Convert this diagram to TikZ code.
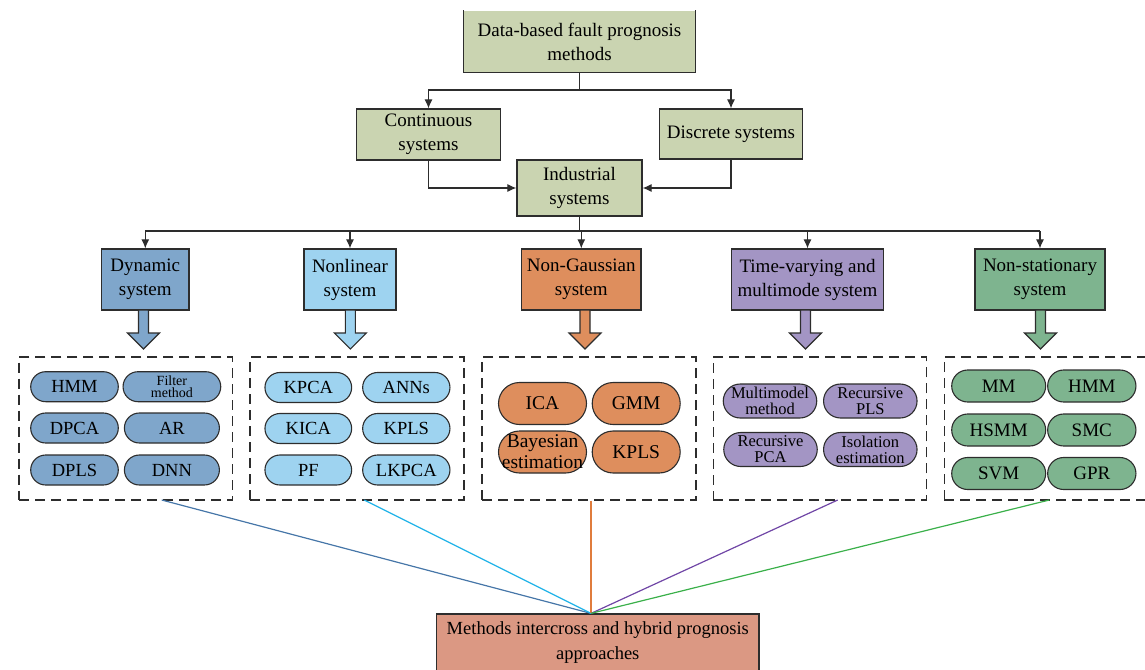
\documentclass[tikz,border=0pt]{standalone}
\usepackage{fontspec}
\setmainfont{Liberation Serif}
\usetikzlibrary{shapes.misc,calc,arrows.meta}

\definecolor{edge}{RGB}{45,45,45}
\definecolor{olive}{RGB}{202,212,177}
\definecolor{dynfill}{RGB}{127,166,203}
\definecolor{nlfill}{RGB}{158,211,240}
\definecolor{ngfill}{RGB}{222,142,93}
\definecolor{tvfill}{RGB}{163,149,196}
\definecolor{nsfill}{RGB}{126,180,143}
\definecolor{hybfill}{RGB}{219,152,131}
\definecolor{dynline}{RGB}{70,118,168}
\definecolor{nlline}{RGB}{30,178,232}
\definecolor{ngline}{RGB}{224,124,60}
\definecolor{tvline}{RGB}{112,70,166}
\definecolor{nsline}{RGB}{58,176,74}

\tikzset{
  box/.style={draw=edge, line width=1.2pt, inner sep=0pt, align=center,
    font=\fontsize{19}{24}\selectfont},
  group/.style={draw=edge, line width=1.3pt, dash pattern=on 10pt off 6pt, inner sep=0pt},
  pill/.style={rounded rectangle, draw=edge, line width=1.1pt, inner sep=0pt, align=center,
    font=\fontsize{18.5}{20}\selectfont},
  conn/.style={draw=edge, line width=1.1pt, -{Latex[length=9pt,width=8pt]}},
  link/.style={line width=1.2pt},
}

% a text line that may run past the edge of its pill without widening it
\newcommand\zw[1]{\makebox[0pt]{#1}}

% block arrow below a category box
\newcommand\blockarr[2]{%
  \filldraw[fill=#2, draw=edge, line width=1.1pt]
    (#1-5,310) -- (#1+5,310) -- (#1+5,333) -- (#1+16,333) -- (#1,349)
    -- (#1-16,333) -- (#1-5,333) -- cycle;}

\begin{document}
\begin{tikzpicture}[x=1pt,y=-1pt]
\useasboundingbox (0,0) rectangle (1145,669);

% ---------- upper hierarchy ----------
\node[box, draw=none, fill=olive, minimum width=231, minimum height=61] (root) at (579.5,41.5)
  {Data-based fault prognosis\\methods};
\draw[edge, line width=1.2pt] (root.north west) -- (root.south west) -- (root.south east) -- (root.north east);

\node[box, fill=olive, minimum width=143.5, minimum height=51] (cont) at (428.5,134.5) {Continuous\\systems};
\node[box, fill=olive, minimum width=142.5, minimum height=50] (disc) at (731,134) {Discrete systems};
\node[box, fill=olive, minimum width=125, minimum height=56] (ind) at (579.5,188) {Industrial\\systems};

\coordinate (split1) at (579.5,90);
\draw[draw=edge, line width=1.1pt] (root.south) -- (split1);
\draw[conn] (split1) -| (cont.north);
\draw[conn] (split1) -| (disc.north);
\draw[conn] (cont.south) |- (ind.west);
\draw[conn] (disc.south) |- (ind.east);

% ---------- system categories ----------
\node[box, fill=dynfill, minimum width=87.3, minimum height=61] (dyn) at (145.3,279.5) {Dynamic\\system};
\node[box, fill=nlfill, minimum width=92, minimum height=61] (nl) at (350,279.5) {Nonlinear\\system};
\node[box, fill=ngfill, minimum width=119.3, minimum height=61] (ng) at (581.3,279.5) {Non-Gaussian\\system};
\node[box, fill=tvfill, minimum width=151.6, minimum height=61] (tv) at (807.5,279.5) {Time-varying and\\multimode system};
\node[box, fill=nsfill, minimum width=130, minimum height=61] (ns) at (1040,279.5) {Non-stationary\\system};

\coordinate (split2) at (579.5,231);
\draw[draw=edge, line width=1.1pt] (ind.south) -- (split2);
\draw[draw=edge, line width=1.1pt] (dyn.north |- split2) -- (ns.north |- split2);
\foreach \n in {dyn,nl,ng,tv,ns} \draw[conn] (\n.north |- split2) -- (\n.north);

\blockarr{143.5}{dynfill}
\blockarr{350.3}{nlfill}
\blockarr{585}{ngfill}
\blockarr{805.5}{tvfill}
\blockarr{1040.5}{nsfill}

% ---------- method groups ----------
\node[group, minimum width=213.7, minimum height=143] (gdyn) at (125.85,428.5) {};
\node[group, minimum width=214, minimum height=143] (gnl) at (357,428.5) {};
\node[group, minimum width=214, minimum height=143] (gng) at (589,428.5) {};
\node[group, minimum width=213.4, minimum height=143] (gtv) at (820,428.5) {};
\node[group, minimum width=214, minimum height=143] (gns) at (1051.3,428.5) {};

% dynamic
\begin{scope}[every node/.append style={pill, fill=dynfill, minimum height=30}]
\node[minimum width=87.6] (d1) at (74.5,386.7) {HMM};
\node[minimum width=97.7, font=\fontsize{14}{12.5}\selectfont] (d2) at (171.9,386.7) {\zw{Filter}\\\zw{method}};
\node[minimum width=87.6] (d3) at (74.5,428) {DPCA};
\node[minimum width=95] (d4) at (171.9,428) {AR};
\node[minimum width=87.6] (d5) at (74.5,470) {DPLS};
\node[minimum width=95] (d6) at (171.9,470) {DNN};
\end{scope}

% nonlinear
\begin{scope}[every node/.append style={pill, fill=nlfill, minimum height=30}]
\node[minimum width=86.7] (n1) at (308.3,387.5) {KPCA};
\node[minimum width=87.3] (n2) at (406.3,387.5) {ANNs};
\node[minimum width=86.7] (n3) at (308.3,428.5) {KICA};
\node[minimum width=87.3] (n4) at (406.3,428.5) {KPLS};
\node[minimum width=86.7] (n5) at (308.3,470) {PF};
\node[minimum width=87.3] (n6) at (406.3,470) {LKPCA};
\end{scope}

% non-Gaussian
\begin{scope}[every node/.append style={pill, fill=ngfill, minimum height=42, minimum width=88,
    font=\fontsize{19.5}{21}\selectfont}]
\node (g1) at (542.5,403.5) {ICA};
\node (g2) at (636.2,403.5) {GMM};
\node (g3) at (542.5,452) {\zw{Bayesian}\\\zw{estimation}};
\node (g4) at (636.2,452) {KPLS};
\end{scope}

% time-varying
\begin{scope}[every node/.append style={pill, fill=tvfill, minimum height=34, minimum width=93.5,
    font=\fontsize{16.5}{16}\selectfont}]
\node (t1) at (770,401) {\zw{Multimodel}\\\zw{method}};
\node (t2) at (870.3,401) {\zw{Recursive}\\\zw{PLS}};
\node (t3) at (770.5,449.5) {\zw{Recursive}\\\zw{PCA}};
\node (t4) at (870.3,449.5) {\zw{Isolation}\\\zw{estimation}};
\end{scope}

% non-stationary
\begin{scope}[every node/.append style={pill, fill=nsfill, minimum height=32,
    font=\fontsize{19}{20}\selectfont}]
\node[minimum width=94] (s1) at (998.7,386) {MM};
\node[minimum width=88.3] (s2) at (1091.8,386) {HMM};
\node[minimum width=94] (s3) at (998.7,430) {HSMM};
\node[minimum width=88.3] (s4) at (1091.8,430) {SMC};
\node[minimum width=94] (s5) at (998.7,473.5) {SVM};
\node[minimum width=88.3] (s6) at (1091.8,473.5) {GPR};
\end{scope}

% ---------- hybrid approaches ----------
\node[box, fill=hybfill, minimum width=322.5, minimum height=58,
  font=\fontsize{18.5}{25}\selectfont] (hyb) at (597.8,643) {Methods intercross and hybrid prognosis\\approaches};

\coordinate (meet) at ($(hyb.north west)!0.479!(hyb.north east)$);
\coordinate (odyn) at (161.7,500);
\coordinate (onl) at (364.3,500);
\coordinate (ong) at (meet |- gng.south);
\coordinate (otv) at (837.7,500);
\coordinate (ons) at (1049.3,500);

\draw[link, dynline] (odyn) -- (meet);
\draw[link, nlline] (onl) -- (meet);
\draw[link, ngline] (ong) -- (meet);
\draw[link, tvline] (otv) -- (meet);
\draw[link, nsline] (ons) -- (meet);
\end{tikzpicture}
\end{document}
